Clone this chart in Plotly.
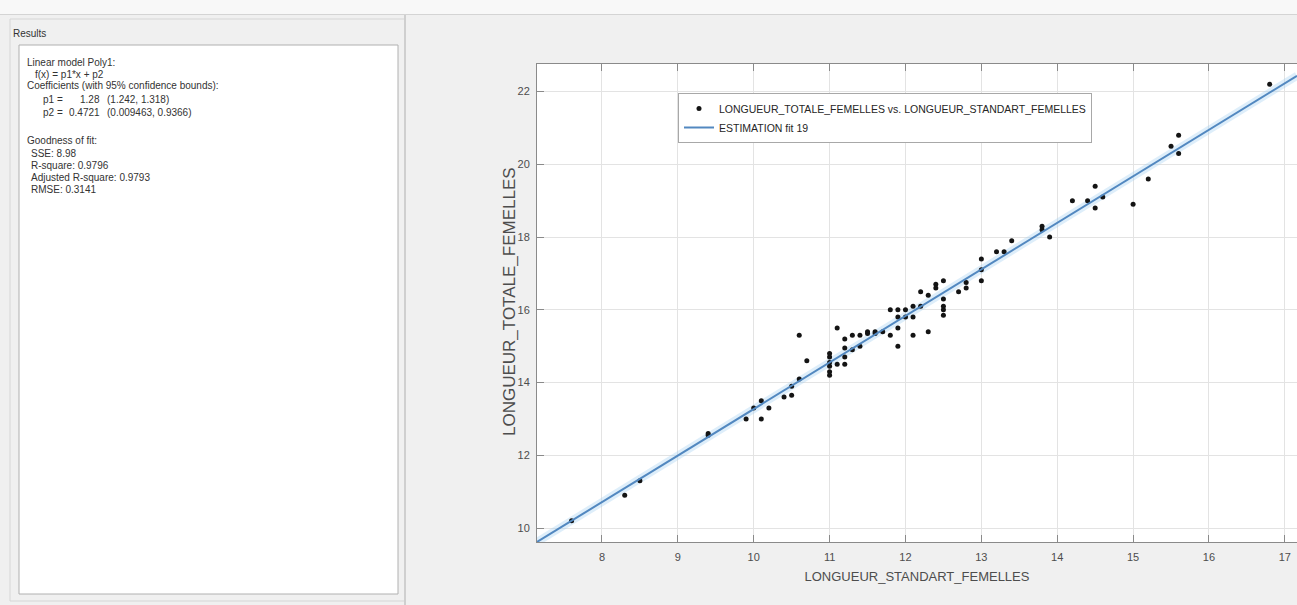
import numpy as np
import plotly.graph_objects as go

# ---------------- data ----------------
x_std = [7.6, 8.3, 8.5, 9.4, 9.4, 9.9, 10.0, 10.1, 10.1, 10.2, 10.4, 10.5, 10.5,
         10.6, 10.6, 10.7, 11.0, 11.0, 11.0, 11.0, 11.0, 11.0, 11.1, 11.1,
         11.2, 11.2, 11.2, 11.2, 11.3, 11.3, 11.4, 11.4, 11.5, 11.5, 11.6, 11.6,
         11.7, 11.8, 11.8, 11.9, 11.9, 11.9, 11.9, 12.0, 12.0, 12.1, 12.1, 12.1,
         12.2, 12.2, 12.3, 12.3, 12.4, 12.4, 12.5, 12.5, 12.5, 12.5, 12.5, 12.7,
         12.8, 12.8, 13.0, 13.0, 13.0, 13.2, 13.3, 13.4, 13.8, 13.8, 13.9, 14.2,
         14.4, 14.5, 14.5, 14.6, 15.0, 15.2, 15.5, 15.6, 15.6, 16.8]
y_tot = [10.2, 10.9, 11.3, 12.6, 12.55, 13.0, 13.3, 13.5, 13.0, 13.3, 13.6, 13.65, 13.9,
         14.1, 15.3, 14.6, 14.8, 14.7, 14.55, 14.45, 14.3, 14.2, 15.5, 14.5,
         15.2, 14.95, 14.7, 14.5, 15.3, 14.9, 15.3, 15.0, 15.4, 15.35, 15.4, 15.35,
         15.4, 16.0, 15.3, 16.0, 15.8, 15.5, 15.0, 16.0, 15.8, 16.1, 15.8, 15.3,
         16.1, 16.5, 16.4, 15.4, 16.7, 16.6, 16.8, 16.3, 16.1, 16.0, 15.85, 16.5,
         16.75, 16.6, 17.4, 17.1, 16.8, 17.6, 17.6, 17.9, 18.3, 18.2, 18.0, 19.0,
         19.0, 19.4, 18.8, 19.1, 18.9, 19.6, 20.5, 20.8, 20.3, 22.2]

p1, p2 = 1.28, 0.4721
x_range = [7.144, 17.16]
y_range = [9.615, 22.76]
x_ticks = [8, 9, 10, 11, 12, 13, 14, 15, 16, 17]
y_ticks = [10, 12, 14, 16, 18, 20, 22]

x_title = "LONGUEUR_STANDART_FEMELLES"
y_title = "LONGUEUR_TOTALE_FEMELLES"

results_lines = [
    "Linear model Poly1:",
    "f(x) = p1*x + p2",
    "Coefficients (with 95% confidence bounds):",
    "Goodness of fit:",
    "SSE: 8.98",
    "R-square: 0.9796",
    "Adjusted R-square: 0.9793",
    "RMSE: 0.3141",
]
coef_names = ["p1 =", "p2 ="]
coef_vals = ["1.28", "0.4721"]
coef_bounds = ["(1.242, 1.318)", "(0.009463, 0.9366)"]

# ---------------- layout helpers ----------------
W, H = 1297, 605
ML, MR, MT, MB = 537, 0, 64, 63
PW, PH = W - ML - MR, H - MT - MB

def px(x):
    return (x - ML) / PW

def py(y):
    return (H - MB - y) / PH

FONT = "Liberation Sans, Arial, sans-serif"

fit_x = np.array(x_range)
fit_y = p1 * fit_x + p2

fig = go.Figure()
fig.add_trace(go.Scatter(
    x=fit_x, y=fit_y, mode="lines", showlegend=False, hoverinfo="skip",
    line=dict(color="rgba(160,205,240,0.35)", width=8)))
fig.add_trace(go.Scatter(
    x=x_std, y=y_tot, mode="markers",
    name="LONGUEUR_TOTALE_FEMELLES vs. LONGUEUR_STANDART_FEMELLES",
    marker=dict(color="#141414", size=5)))
fig.add_trace(go.Scatter(
    x=fit_x, y=fit_y, mode="lines", name="ESTIMATION fit 19",
    line=dict(color="#5288c0", width=2)))

shapes = [
    dict(type="rect", xref="paper", yref="paper", x0=px(0), x1=px(W), y0=py(0), y1=py(14),
         fillcolor="#f8f8f8", line=dict(width=0), layer="below"),
    dict(type="line", xref="paper", yref="paper", x0=px(0), x1=px(W), y0=py(14.5), y1=py(14.5),
         line=dict(color="#d4d4d4", width=1), layer="below"),
    dict(type="rect", xref="paper", yref="paper", x0=px(10), x1=px(405), y0=py(19), y1=py(601),
         line=dict(color="#d6d6d6", width=1), layer="below"),
    dict(type="line", xref="paper", yref="paper", x0=px(405), x1=px(405), y0=py(15), y1=py(605),
         line=dict(color="#cfcfcf", width=2), layer="below"),
    dict(type="rect", xref="paper", yref="paper", x0=px(19), x1=px(398), y0=py(45), y1=py(594),
         fillcolor="white", line=dict(color="#b0b0b0", width=1), layer="below"),
]

annotations = []
def note(text, x, y, anchor="left"):
    annotations.append(dict(text=text, xref="paper", yref="paper", x=px(x), y=py(y),
                            xanchor=anchor, yanchor="middle", showarrow=False,
                            font=dict(family=FONT, size=10, color="#333333")))

note("Results", 11, 33)
ys = [62, 74, 86, 141, 153, 165, 177, 189]
xs = [25, 33, 25, 25, 29, 29, 29, 29]
for t, x, y in zip(results_lines, xs, ys):
    note(t, x, y)
for i, yy in enumerate([99, 112]):
    note(coef_names[i], 41, yy)
    note(coef_vals[i], 102, yy, anchor="right")
    note(coef_bounds[i], 105, yy)

# y-axis title placed as a rotated annotation
annotations.append(dict(text=y_title, xref="paper", yref="paper", x=px(509), y=py(302),
                        xanchor="center", yanchor="middle", textangle=-90, showarrow=False,
                        font=dict(family=FONT, size=17, color="#4d4d4d")))

axis_common = dict(
    showline=True, linecolor="#8a8a8a", linewidth=1,
    showgrid=True, gridcolor="#e3e3e3", gridwidth=1,
    ticks="inside", ticklen=7, tickcolor="#8a8a8a", zeroline=False,
    tickfont=dict(family=FONT, size=11, color="#4d4d4d"),
)

fig.update_layout(
    width=W, height=H,
    margin=dict(l=ML, r=MR, t=MT, b=MB, pad=0),
    paper_bgcolor="#f0f0f0", plot_bgcolor="white",
    shapes=shapes, annotations=annotations,
    showlegend=True,
    legend=dict(x=px(678), y=py(93), xanchor="left", yanchor="top",
                bgcolor="white", bordercolor="#a8a8a8", borderwidth=1,
                font=dict(family=FONT, size=10.5, color="#262626"),
                tracegroupgap=0, itemwidth=30),
    xaxis=dict(range=x_range, tickvals=x_ticks, mirror="ticks",
               ticklabelstandoff=5,
               title=dict(text=x_title, standoff=9,
                          font=dict(family=FONT, size=13, color="#4d4d4d")),
               **axis_common),
    yaxis=dict(range=y_range, tickvals=y_ticks, mirror=False,
               ticklabelstandoff=4, **axis_common),
)

fig.write_html("out.html")
